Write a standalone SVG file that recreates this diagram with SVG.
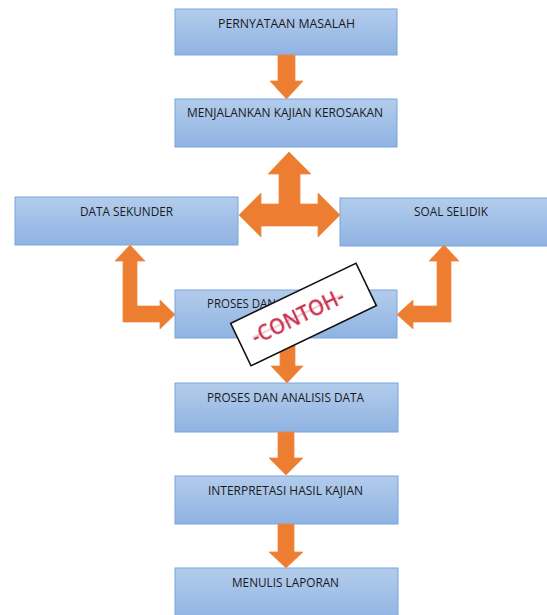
<svg xmlns="http://www.w3.org/2000/svg" width="547" height="615" viewBox="0 0 547 615">
<defs>
<linearGradient id="g" x1="0" y1="0" x2="0" y2="1">
<stop offset="0" stop-color="#b3ccec"/>
<stop offset="1" stop-color="#8fb3e2"/>
</linearGradient>
<filter id="blur" x="-10%" y="-10%" width="120%" height="120%"><feGaussianBlur stdDeviation="0.7"/></filter>
<style>
.box{fill:url(#g);stroke:#78a5dd;stroke-width:1}
.lbl{font-family:"Open Sans","Liberation Sans",Arial,sans-serif;font-size:12px;fill:#1a1a1a}
.arr{fill:#ed7d31;stroke:#f08b45;stroke-width:0.8}
</style>
</defs>
<rect width="547" height="615" fill="#ffffff"/>

<g id="n1"><rect class="box" x="175" y="9" width="222" height="46"/><text class="lbl" x="218" y="28" textLength="137" lengthAdjust="spacingAndGlyphs">PERNYATAAN MASALAH</text></g>
<g id="n2"><rect class="box" x="175" y="99" width="222" height="48"/><text class="lbl" x="187" y="117" textLength="196" lengthAdjust="spacingAndGlyphs">MENJALANKAN KAJIAN KEROSAKAN</text></g>
<g id="n3"><rect class="box" x="15" y="197" width="223" height="48"/><text class="lbl" x="80" y="216" textLength="93" lengthAdjust="spacingAndGlyphs">DATA SEKUNDER</text></g>
<g id="n4"><rect class="box" x="340" y="198" width="210" height="48"/><text class="lbl" x="414" y="216" textLength="74" lengthAdjust="spacingAndGlyphs">SOAL SELIDIK</text></g>
<g id="n5"><rect class="box" x="175" y="290" width="222" height="48"/><text class="lbl" x="207" y="308" textLength="69" lengthAdjust="spacingAndGlyphs">PROSES DAN</text></g>
<g id="n6"><rect class="box" x="175" y="383" width="223" height="49"/><text class="lbl" x="207" y="402" textLength="157" lengthAdjust="spacingAndGlyphs">PROSES DAN ANALISIS DATA</text></g>
<g id="n7"><rect class="box" x="175" y="476" width="223" height="48"/><text class="lbl" x="208" y="495" textLength="155" lengthAdjust="spacingAndGlyphs">INTERPRETASI HASIL KAJIAN</text></g>
<g id="n8"><rect class="box" x="175" y="568" width="223" height="55"/><text class="lbl" x="232" y="587" textLength="107" lengthAdjust="spacingAndGlyphs">MENULIS LAPORAN</text></g>

<g id="connectors">
<path class="arr" d="M278,55 H295 V81 H303 L286.5,99 L270,81 H278 Z"/>
<path class="arr" d="M289,152 L311,174 H300 V204 H318 V193 L340,215 L318,237 V226 H261 V237 L239,215 L261,193 V204 H279 V174 H268 Z"/>
<path class="arr" d="M130,245 L145,261 H137 V306 H160 V300 L175,314.5 L160,329 V322 H123 V261 H115 Z"/>
<path class="arr" d="M444,245 L459,261 H451 V322 H413 V329 L397,314.5 L413,300 V306 H437 V261 H429 Z"/>
<path class="arr" d="M280,338 H295 V366 H303 L287,383 L271,366 H280 Z"/>
<path class="arr" d="M278,432 H294 V458 H303 L286,475 L269,458 H278 Z"/>
<path class="arr" d="M278,524 H294 V552 H303 L286,568 L269,552 H278 Z"/>
</g>

<g id="stamp" transform="translate(303.5,314.5) rotate(-25.6)">
<rect x="-69.5" y="-23.5" width="139" height="47" fill="#ffffff" stroke="#111111" stroke-width="1.6"/>
<g filter="url(#blur)">
<text x="-6" y="7" text-anchor="middle" font-family="Open Sans,Liberation Sans,Arial,sans-serif" font-weight="600" font-size="21" fill="#c9304c" textLength="100" lengthAdjust="spacingAndGlyphs">-CONTOH-</text>
<line x1="-56" y1="-1" x2="44" y2="-1" stroke="#c9304c" stroke-width="0.8" opacity="0.6"/>
</g>
</g>
</svg>
